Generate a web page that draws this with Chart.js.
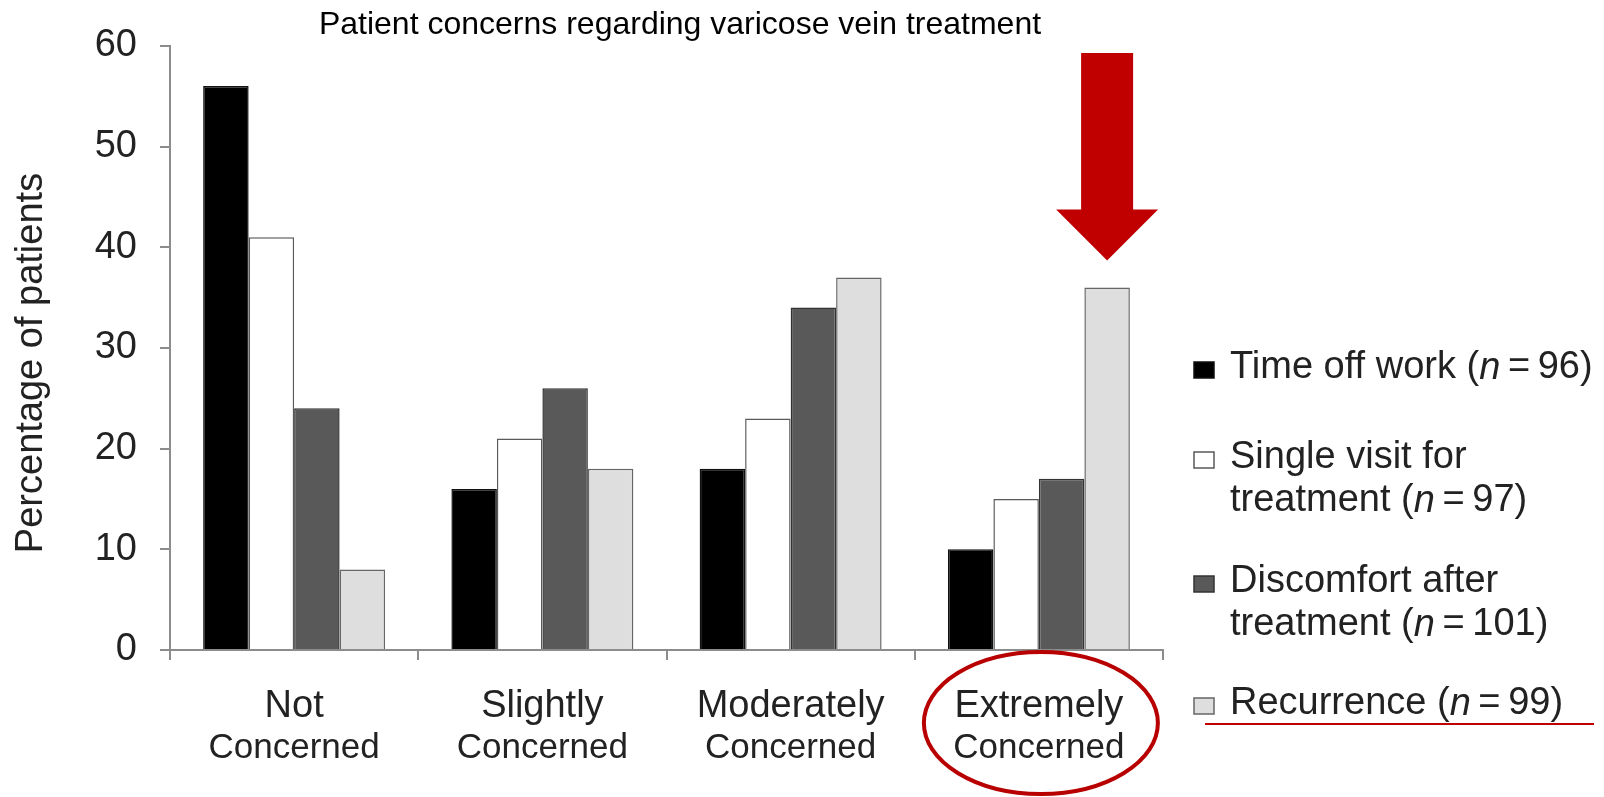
<!DOCTYPE html>
<html>
<head>
<meta charset="utf-8">
<title>Patient concerns regarding varicose vein treatment</title>
<script src="https://cdn.jsdelivr.net/npm/chart.js@4"></script>
<style>
    html, body { margin: 0; padding: 0; background: #fff; }
    #wrap { width: 1604px; height: 797px; }
</style>
</head>
<body>
<div id="wrap"><canvas id="graficaPreocupaciones" width="1604" height="797"></canvas></div>
<script>
var categories = [['Not', 'Concerned'], ['Slightly', 'Concerned'], ['Moderately', 'Concerned'], ['Extremely', 'Concerned']];
var seriesLines = [['Time off work'], ['Single visit for', 'treatment'], ['Discomfort after', 'treatment'], ['Recurrence']];
var seriesN = [96, 97, 101, 99];
var timeOffWork = [56, 16, 18, 10];
var singleVisit = [41, 21, 23, 15];
var discomfort = [24, 26, 34, 17];
var recurrence = [8, 18, 37, 36];
var yTicks = [0, 10, 20, 30, 40, 50, 60];

var FONT = '"Liberation Sans", Arial, Helvetica, sans-serif';
var fills = ['#000000', '#ffffff', '#595959', '#dedede'];
var edges = ['#111111', '#5a5a5a', '#333333', '#666666'];
var RED = '#c00000';

// rich text: plain text with an italic "n"
function drawParts(ctx, parts, x, y, size) {
    parts.forEach(function(p) {
        ctx.font = (p.italic ? 'italic ' : '') + size + 'px ' + FONT;
        ctx.fillText(p.t, x, y);
        x += ctx.measureText(p.t).width;
    });
}

var extras = {
    id: 'extras',
    afterDraw: function(chart) {
        var ctx = chart.ctx;
        var xs = chart.scales.x;
        ctx.save();

        // title
        ctx.fillStyle = '#000';
        ctx.textAlign = 'center';
        ctx.textBaseline = 'middle';
        ctx.font = '32px ' + FONT;
        ctx.fillText('Patient concerns regarding varicose vein treatment', 680, 25);

        // category labels: first line a bit larger than the second
        ctx.fillStyle = '#222';
        categories.forEach(function(lines, i) {
            var x = xs.getPixelForValue(i);
            ctx.font = '38px ' + FONT;
            ctx.fillText(lines[0], x, 707);
            ctx.font = '35px ' + FONT;
            ctx.fillText(lines[1], x, 748);
        });

        // y axis title
        ctx.save();
        ctx.translate(32, 363);
        ctx.rotate(-Math.PI / 2);
        ctx.font = '38px ' + FONT;
        ctx.fillText('Percentage of patients', 0, 0);
        ctx.restore();

        // legend
        var legendY = [368, 458, 582, 704];
        ctx.textAlign = 'left';
        seriesLines.forEach(function(lines, i) {
            var y0 = legendY[i];
            ctx.fillStyle = fills[i];
            ctx.fillRect(1194, y0 - 6, 20, 16);
            ctx.strokeStyle = edges[i];
            ctx.lineWidth = 1.5;
            ctx.strokeRect(1194, y0 - 6, 20, 16);
            ctx.fillStyle = '#222';
            lines.forEach(function(line, j) {
                var parts = [{t: line}];
                if (j === lines.length - 1) {
                    parts = [{t: line + ' ('}, {t: 'n', italic: true}, {t: '\u2009=\u2009' + seriesN[i] + ')'}];
                }
                drawParts(ctx, parts, 1230, y0 + j * 43, 38);
            });
        });

        // red underline under the last legend entry
        ctx.strokeStyle = RED;
        ctx.lineWidth = 2;
        ctx.beginPath();
        ctx.moveTo(1205, 724);
        ctx.lineTo(1594, 724);
        ctx.stroke();

        // red arrow pointing at the recurrence bar of the last group
        var bar = chart.getDatasetMeta(3).data[3];
        var cx = bar.x, tip = bar.y - 27;
        ctx.fillStyle = RED;
        ctx.beginPath();
        ctx.moveTo(cx - 26, 53);
        ctx.lineTo(cx + 26, 53);
        ctx.lineTo(cx + 26, tip - 51);
        ctx.lineTo(cx + 51, tip - 51);
        ctx.lineTo(cx, tip);
        ctx.lineTo(cx - 51, tip - 51);
        ctx.lineTo(cx - 26, tip - 51);
        ctx.closePath();
        ctx.fill();

        // ellipse around the last category label
        ctx.strokeStyle = '#b80000';
        ctx.lineWidth = 4;
        ctx.beginPath();
        ctx.ellipse(xs.getPixelForValue(3) + 2, 723, 117, 71, 0, 0, Math.PI * 2);
        ctx.stroke();

        ctx.restore();
    }
};

var ctx = document.getElementById('graficaPreocupaciones').getContext('2d');
var grafica = new Chart(ctx, {
    type: 'bar',
    data: {
        labels: categories,
        datasets: [
            { label: seriesLines[0].join(' '), data: timeOffWork },
            { label: seriesLines[1].join(' '), data: singleVisit },
            { label: seriesLines[2].join(' '), data: discomfort },
            { label: seriesLines[3].join(' '), data: recurrence }
        ].map(function(d, i) {
            d.backgroundColor = fills[i];
            d.borderColor = edges[i];
            d.borderWidth = 1.5;
            d.barPercentage = 1;
            d.categoryPercentage = 0.733;
            return d;
        })
    },
    options: {
        responsive: false,
        animation: false,
        layout: { padding: { top: 43, right: 441, left: 0, bottom: 0 } },
        plugins: {
            legend: { display: false },
            tooltip: { enabled: false }
        },
        scales: {
            x: {
                border: { display: true, color: '#8c8c8c', width: 2 },
                grid: { drawOnChartArea: false, drawTicks: true, tickLength: 10, color: '#8c8c8c', lineWidth: 2, offset: true },
                ticks: { display: false },
                afterFit: function(s) { s.height = 147; }
            },
            y: {
                min: 0,
                max: 60,
                afterBuildTicks: function(s) { s.ticks = yTicks.map(function(v) { return { value: v }; }); },
                border: { display: true, color: '#8c8c8c', width: 2 },
                grid: { drawOnChartArea: false, drawTicks: true, tickLength: 10, color: '#8c8c8c', lineWidth: 2 },
                ticks: { font: { size: 38, family: FONT }, color: '#222', padding: 23 },
                afterFit: function(s) { s.width = 170; }
            }
        }
    },
    plugins: [extras]
});
</script>
</body>
</html>
